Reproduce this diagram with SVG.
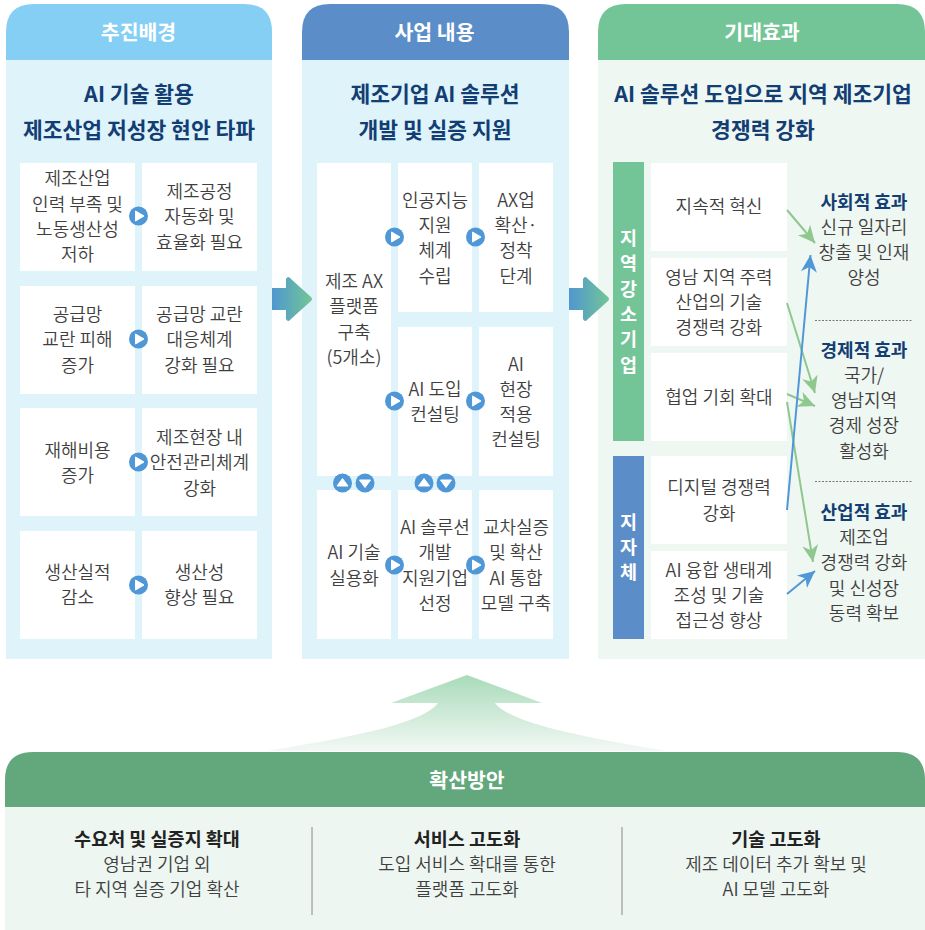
<svg xmlns="http://www.w3.org/2000/svg" width="925" height="930" viewBox="0 0 925 930">
<style>
text{font-family:"Noto Sans CJK KR","Noto Sans",sans-serif;text-anchor:middle}
.b{font-size:18px;fill:#3f3f3f;font-weight:350}
.t{font-size:21.5px;font-weight:700;fill:#123e73}
.h{font-size:20.5px;font-weight:700;fill:#fff}
.e{font-size:18px;font-weight:700;fill:#123e73}
.v{font-size:18.5px;font-weight:700;fill:#fff}
.s{font-size:18.5px;font-weight:700;fill:#222}
.w{fill:#fff;stroke:#fff;stroke-width:0}
.i{fill:#fff;stroke:#fff;stroke-width:1;stroke-linejoin:round}
.c{fill:#4f97d6}
.g{stroke:#8fc78f;stroke-width:2;fill:none;marker-end:url(#mg)}
.l{stroke:#4f97d6;stroke-width:2;fill:none;marker-end:url(#ml)}
</style>
<defs>
<marker id="mg" markerUnits="userSpaceOnUse" markerWidth="20" markerHeight="20" refX="17" refY="10" orient="auto"><path d="M17 10 L0 2 L5 10 L0 18Z" fill="#8fc78f"/></marker>
<marker id="ml" markerUnits="userSpaceOnUse" markerWidth="20" markerHeight="20" refX="17" refY="10" orient="auto"><path d="M17 10 L0 2 L5 10 L0 18Z" fill="#4f97d6"/></marker>
<linearGradient id="ga" x1="0" x2="1" y1="0" y2="0"><stop offset="0" stop-color="#4f97d0"/><stop offset="1" stop-color="#73c597"/></linearGradient>
<linearGradient id="gu" x1="0" x2="0" y1="0" y2="1"><stop offset="0" stop-color="#a8dbb9"/><stop offset="1" stop-color="#f3f8f5"/></linearGradient>
<path id="big" d="M0 -11 H14 V-20 Q16 -24 19 -20 L39 -2 Q41 0 39 2 L19 20 Q16 24 14 20 V11 H0Z" fill="url(#ga)"/>
<g id="pr"><circle r="9.5" class="c"/><path d="M-3 -5 L5.5 0 L-3 5Z" class="i"/></g>
<g id="pu"><circle r="9.5" class="c"/><path d="M-5.5 3 L0 -4.5 L5.5 3Z" class="i"/></g>
<g id="pd"><circle r="9.5" class="c"/><path d="M-5.5 -3 L0 4.5 L5.5 -3Z" class="i"/></g>
</defs>

<g id="panel-left">
<rect x="6" y="60" width="266" height="599" fill="#dff3fb"/>
<path d="M6 60 V32 Q6 4 34 4 H244 Q272 4 272 32 V60Z" fill="#85cff5"/>
<text class="h" x="138.5" y="39.5">추진배경</text>
<text class="t" x="139" y="102">AI 기술 활용</text>
<text class="t" x="139" y="137.5">제조산업 저성장 현안 타파</text>
</g>
<g id="node-l1"><rect class="w" x="20" y="163" width="115" height="108"/>
<text class="b" x="77.5" y="185">제조산업</text><text class="b" x="77.5" y="210.500">인력 부족 및</text><text class="b" x="77.5" y="235.500">노동생산성</text><text class="b" x="77.5" y="261">저하</text></g>
<g id="node-l2"><rect class="w" x="142" y="163" width="115" height="108"/>
<text class="b" x="199.5" y="197.500">제조공정</text><text class="b" x="199.500" y="223">자동화 및</text><text class="b" x="199.5" y="248.500">효율화 필요</text></g>
<g id="node-l3"><rect class="w" x="20" y="286" width="115" height="108"/>
<text class="b" x="77.5" y="320.500">공급망</text><text class="b" x="77.5" y="346">교란 피해</text><text class="b" x="77.5" y="371.500">증가</text></g>
<g id="node-l4"><rect class="w" x="142" y="286" width="115" height="108"/>
<text class="b" x="199.5" y="320.500">공급망 교란</text><text class="b" x="199.5" y="346">대응체계</text><text class="b" x="199.5" y="371.500">강화 필요</text></g>
<g id="node-l5"><rect class="w" x="20" y="408" width="115" height="108"/>
<text class="b" x="77.5" y="456.500">재해비용</text><text class="b" x="77.5" y="481.500">증가</text></g>
<g id="node-l6"><rect class="w" x="142" y="408" width="115" height="108"/>
<text class="b" x="199.5" y="443.500">제조현장 내</text><text class="b" x="199.5" y="468.500">안전관리체계</text><text class="b" x="199.5" y="494.500">강화</text></g>
<g id="node-l7"><rect class="w" x="20" y="531" width="115" height="108"/>
<text class="b" x="77.5" y="578.500">생산실적</text><text class="b" x="77.5" y="604">감소</text></g>
<g id="node-l8"><rect class="w" x="142" y="531" width="115" height="108"/>
<text class="b" x="199.5" y="578.500">생산성</text><text class="b" x="199.5" y="604">향상 필요</text></g>

<g id="panel-mid">
<rect x="302" y="60" width="267" height="599" fill="#dff3fb"/>
<path d="M302 60 V32 Q302 4 330 4 H541 Q569 4 569 32 V60Z" fill="#5b8ec9"/>
<text class="h" x="434.5" y="39.5">사업 내용</text>
<text class="t" x="435" y="102">제조기업 AI 솔루션</text>
<text class="t" x="435" y="137.5">개발 및 실증 지원</text>
</g>
<g id="node-m1"><rect class="w" x="317" y="163" width="74" height="313"/>
<text class="b" x="354" y="287.500">제조 AX</text><text class="b" x="354" y="313">플랫폼</text><text class="b" x="354" y="338.500">구축</text><text class="b" x="354" y="363.500">(5개소)</text></g>
<g id="node-m2"><rect class="w" x="398" y="163" width="74" height="149"/>
<text class="b" x="435" y="206.500">인공지능</text><text class="b" x="435" y="231.500">지원</text><text class="b" x="435" y="257">체계</text><text class="b" x="435" y="282.500">수립</text></g>
<g id="node-m3"><rect class="w" x="479" y="163" width="74" height="149"/>
<text class="b" x="516" y="206.500">AX업</text><text class="b" x="516" y="231.500">확산·</text><text class="b" x="516" y="257">정착</text><text class="b" x="516" y="282.500">단계</text></g>
<g id="node-m4"><rect class="w" x="398" y="327" width="74" height="149"/>
<text class="b" x="435" y="395.500">AI 도입</text><text class="b" x="435" y="420.500">컨설팅</text></g>
<g id="node-m5"><rect class="w" x="479" y="327" width="74" height="149"/>
<text class="b" x="516" y="370.500">AI</text><text class="b" x="516" y="395.500">현장</text><text class="b" x="516" y="420.500">적용</text><text class="b" x="516" y="446">컨설팅</text></g>
<g id="node-m6"><rect class="w" x="317" y="490" width="74" height="149"/>
<text class="b" x="354" y="559">AI 기술</text><text class="b" x="354" y="584.500">실용화</text></g>
<g id="node-m7"><rect class="w" x="398" y="490" width="74" height="149"/>
<text class="b" x="435" y="533.500">AI 솔루션</text><text class="b" x="435" y="559">개발</text><text class="b" x="435" y="584.500">지원기업</text><text class="b" x="435" y="609.500">선정</text></g>
<g id="node-m8"><rect class="w" x="479" y="490" width="74" height="149"/>
<text class="b" x="516" y="533.500">교차실증</text><text class="b" x="516" y="559">및 확산</text><text class="b" x="516" y="584.500">AI 통합</text><text class="b" x="516" y="609.500">모델 구축</text></g>

<g id="panel-right">
<rect x="598" y="60" width="327" height="599" fill="#eff7f2"/>
<path d="M598 60 V32 Q598 4 626 4 H897 Q925 4 925 32 V60Z" fill="#73c597"/>
<text class="h" x="762" y="39.5">기대효과</text>
<text class="t" x="763" y="102">AI 솔루션 도입으로 지역 제조기업</text>
<text class="t" x="763" y="137.5">경쟁력 강화</text>
</g>
<g id="node-bar1"><rect x="613" y="162" width="31" height="279" fill="#73c597"/>
<text class="v" x="628.5" y="245">지</text><text class="v" x="628.5" y="270">역</text><text class="v" x="628.5" y="296">강</text><text class="v" x="628.5" y="321">소</text><text class="v" x="628.5" y="346">기</text><text class="v" x="628.5" y="372">업</text></g>
<g id="node-bar2"><rect x="613" y="456" width="31" height="183" fill="#5b8ec9"/>
<text class="v" x="628.5" y="529">지</text><text class="v" x="628.5" y="554">자</text><text class="v" x="628.5" y="579">체</text></g>
<g id="node-r1"><rect class="w" x="651" y="163" width="136" height="88"/><text class="b" x="719" y="212.500">지속적 혁신</text></g>
<g id="node-r2"><rect class="w" x="651" y="258" width="136" height="88"/>
<text class="b" x="719" y="283.500">영남 지역 주력</text><text class="b" x="719" y="309">산업의 기술</text><text class="b" x="719" y="334">경쟁력 강화</text></g>
<g id="node-r3"><rect class="w" x="651" y="353" width="136" height="88"/><text class="b" x="719" y="404">협업 기회 확대</text></g>
<g id="node-r4"><rect class="w" x="651" y="456" width="136" height="88"/>
<text class="b" x="719" y="494">디지털 경쟁력</text><text class="b" x="719" y="519.500">강화</text></g>
<g id="node-r5"><rect class="w" x="651" y="551" width="136" height="88"/>
<text class="b" x="719" y="576.500">AI 융합 생태계</text><text class="b" x="719" y="602">조성 및 기술</text><text class="b" x="719" y="627">접근성 향상</text></g>

<g id="effect-social"><text class="e" x="864" y="209">사회적 효과</text><text class="b" x="864" y="233.500">신규 일자리</text><text class="b" x="864" y="258.500">창출 및 인재</text><text class="b" x="864" y="284">양성</text></g>
<g id="effect-econ"><text class="e" x="864" y="356.500">경제적 효과</text><text class="b" x="864" y="381.500">국가/</text><text class="b" x="864" y="406.500">영남지역</text><text class="b" x="864" y="432">경제 성장</text><text class="b" x="864" y="457.500">활성화</text></g>
<g id="effect-ind"><text class="e" x="864" y="518.500">산업적 효과</text><text class="b" x="864" y="543.500">제조업</text><text class="b" x="864" y="569">경쟁력 강화</text><text class="b" x="864" y="594.500">및 신성장</text><text class="b" x="864" y="619.500">동력 확보</text></g>
<g id="separators" stroke="#777" stroke-width="1" stroke-dasharray="2 1.5"><line x1="815" y1="320.5" x2="913" y2="320.5"/><line x1="815" y1="481.5" x2="913" y2="481.5"/></g>

<g id="connectors">
<use href="#big" x="272" y="299"/>
<use href="#big" x="569" y="299"/>
<line class="g" x1="787" y1="210" x2="815" y2="243"/>
<line class="g" x1="787" y1="303" x2="815" y2="393"/>
<line class="g" x1="787" y1="394" x2="815" y2="406"/>
<line class="g" x1="787" y1="402" x2="813" y2="562"/>
<line class="l" x1="787" y1="510" x2="810.500" y2="255"/>
<line class="l" x1="787" y1="594" x2="815" y2="571"/>
<use href="#pr" x="138.5" y="216"/><use href="#pr" x="138.5" y="339"/><use href="#pr" x="138.5" y="462"/><use href="#pr" x="138.5" y="585"/>
<use href="#pr" x="394.5" y="237"/><use href="#pr" x="475.5" y="237"/><use href="#pr" x="394.5" y="401"/><use href="#pr" x="475.5" y="401"/><use href="#pr" x="394.5" y="565"/><use href="#pr" x="475.5" y="565"/>
<use href="#pu" x="342.5" y="483"/><use href="#pd" x="365" y="483"/><use href="#pu" x="424" y="483"/><use href="#pd" x="446" y="483"/>
<path id="up-arrow" d="M467 675 L542 703 H495 C510 722 570 735 667 751 H267 C365 735 424 722 438 703 H391Z" fill="url(#gu)"/>
</g>

<g id="panel-bottom">
<path d="M5 807 V780 Q5 752 33 752 H897 Q925 752 925 780 V807Z" fill="#62a87c"/>
<rect x="5" y="807" width="920" height="123" fill="#edf6f1"/>
<text class="h" x="467" y="787.500">확산방안</text>
<line x1="312" y1="827" x2="312" y2="915" stroke="#888"/>
<line x1="622" y1="827" x2="622" y2="915" stroke="#888"/>
</g>
<g id="node-b1"><text class="s" x="157" y="845.500">수요처 및 실증지 확대</text><text class="b" x="157" y="870.500">영남권 기업 외</text><text class="b" x="157" y="896">타 지역 실증 기업 확산</text></g>
<g id="node-b2"><text class="s" x="467" y="845.500">서비스 고도화</text><text class="b" x="467" y="870.500">도입 서비스 확대를 통한</text><text class="b" x="467" y="896">플랫폼 고도화</text></g>
<g id="node-b3"><text class="s" x="776" y="845.500">기술 고도화</text><text class="b" x="776" y="870.500">제조 데이터 추가 확보 및</text><text class="b" x="776" y="896">AI 모델 고도화</text></g>
</svg>
